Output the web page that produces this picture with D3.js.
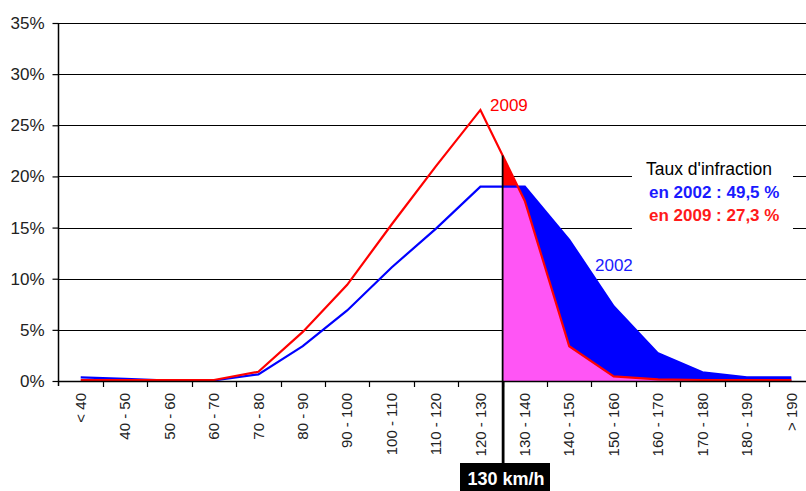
<!DOCTYPE html>
<html><head><meta charset="utf-8">
<script src="https://cdn.jsdelivr.net/npm/d3@7"></script>
<style>
html,body{margin:0;padding:0;background:#fff;overflow:hidden}
text{font-family:"Liberation Sans",Arial,sans-serif}
</style></head>
<body><svg id="c" width="806" height="491"></svg>
<script>
const categories = ["< 40","40 - 50","50 - 60","60 - 70","70 - 80","80 - 90","90 - 100","100 - 110","110 - 120","120 - 130","130 - 140","140 - 150","150 - 160","160 - 170","170 - 180","180 - 190","> 190"];
const values2002 = [0.35,0.2,0.05,0.05,0.65,3.4,6.9,11.1,14.9,19.0,19.0,13.8,7.3,2.7,0.85,0.35,0.35];
const values2009 = [0.1,0.1,0.1,0.1,0.9,4.8,9.4,15.3,21.0,26.5,17.6,3.4,0.45,0.15,0.1,0.1,0.1];
const yTicks = [0,5,10,15,20,25,30,35];
const limitCategory = "130 - 140";
const limitLabel = "130 km/h";
const labelTitle = "Taux d'infraction";
const label2002 = "en 2002 : 49,5 %";
const label2009 = "en 2009 : 27,3 %";

const svg = d3.select("#c");
svg.append("rect").attr("width",806).attr("height",491).attr("fill","#fff");

const x = d3.scaleBand().domain(categories).range([58.5, 813.5]).padding(0);
const y = d3.scaleLinear().domain([0,35]).range([381,23]);
const cx = c => x(c) + x.bandwidth()/2;

// gridlines
svg.append("g").selectAll("line").data(yTicks.slice(1)).join("line")
  .attr("x1",58).attr("x2",806).attr("y1",d=>Math.round(y(d))+0.5).attr("y2",d=>Math.round(y(d))+0.5)
  .attr("stroke","#000").attr("stroke-width",1.2);

// white box behind annotation
svg.append("rect").attr("x",632).attr("y",152).attr("width",161).attr("height",80).attr("fill","#fff");

// fills right of limit
const xLimit = x(limitCategory);
const defs = svg.append("defs");
defs.append("clipPath").attr("id","clipR").append("rect")
  .attr("x",xLimit).attr("y",0).attr("width",806-xLimit).attr("height",y(0));
const idx = d3.range(categories.length);
const area = vals => d3.area().x(i=>cx(categories[i])).y0(y(0)).y1(i=>y(vals[i]))(idx);
const minVals = idx.map(i=>Math.min(values2002[i],values2009[i]));
const fills = svg.append("g").attr("clip-path","url(#clipR)");
fills.append("path").attr("d",area(values2009)).attr("fill","#ff0000");
fills.append("path").attr("d",area(values2002)).attr("fill","#0000ff");
// magenta under the 2009 curve (below both lines)
const redArea = area(values2009);
defs.append("clipPath").attr("id","clipBlue").append("path").attr("d",area(values2002));
fills.append("g").attr("clip-path","url(#clipBlue)").append("path").attr("d",redArea).attr("fill","#ff55f5");

// lines
const line = vals => d3.line().x(i=>cx(categories[i])).y(i=>y(vals[i]))(idx);
svg.append("path").attr("d",line(values2002)).attr("fill","none").attr("stroke","#0000ff").attr("stroke-width",2.2);
svg.append("path").attr("d",line(values2009)).attr("fill","none").attr("stroke","#ff0000").attr("stroke-width",2.2);

// axes
const yAxis = d3.axisLeft(y).tickValues(yTicks).tickFormat(d=>d+"%").tickSize(6).tickPadding(8);
const gy = svg.append("g").attr("transform","translate(58.5,0)").call(yAxis);
gy.select(".domain").attr("d","M0,23V386").attr("stroke","#000").attr("stroke-width",1.5);
gy.selectAll(".tick line").attr("stroke","#000").attr("stroke-width",1.2);
gy.selectAll("text").attr("font-size",17).attr("fill","#222").attr("font-family","Liberation Sans, Arial, sans-serif");

const xAxis = d3.axisBottom(x).tickSize(0).tickPadding(0);
const gx = svg.append("g").attr("transform","translate(0,381)").call(xAxis);
gx.select(".domain").attr("d","M58,0.5H806").attr("stroke","#000").attr("stroke-width",1.5);
gx.selectAll(".tick text").attr("font-size",15).attr("fill","#222")
  .attr("font-family","Liberation Sans, Arial, sans-serif")
  .attr("text-anchor","end").attr("transform","translate(0,12) rotate(-90)").attr("dy","0.35em").attr("x",0).attr("y",0);
// tick marks at band boundaries
svg.append("g").selectAll("line").data(categories.slice(1)).join("line")
  .attr("x1",d=>Math.round(x(d))+0.5).attr("x2",d=>Math.round(x(d))+0.5).attr("y1",381).attr("y2",387)
  .attr("stroke","#000").attr("stroke-width",1.2);

// limit marker
const topY = y(values2009[9] + (values2009[10]-values2009[9])*((xLimit - cx(categories[9]))/x.bandwidth()));
svg.append("line").attr("x1",xLimit).attr("x2",xLimit).attr("y1",topY).attr("y2",381)
  .attr("stroke","#000").attr("stroke-width",1.8);
svg.append("line").attr("x1",xLimit+0.5).attr("x2",xLimit+0.5).attr("y1",381).attr("y2",464)
  .attr("stroke","#000").attr("stroke-width",2.8);
svg.append("rect").attr("x",460).attr("y",463).attr("width",90).attr("height",28).attr("fill","#000");
svg.append("text").attr("x",506).attr("y",485).attr("text-anchor","middle").attr("fill","#fff")
  .attr("font-size",18).attr("font-weight","bold").text(limitLabel);

// series labels
svg.append("text").attr("x",490).attr("y",111).attr("fill","#ff0000").attr("font-size",17).text("2009");
svg.append("text").attr("x",595).attr("y",271).attr("fill","#1a1aff").attr("font-size",17).text("2002");

// annotation
svg.append("text").attr("x",646).attr("y",175).attr("fill","#000").attr("font-size",17.5).text(labelTitle);
svg.append("text").attr("x",649).attr("y",198).attr("fill","#1a1aff").attr("font-size",17).attr("font-weight","bold").text(label2002);
svg.append("text").attr("x",649).attr("y",221).attr("fill","#ff1a1a").attr("font-size",17).attr("font-weight","bold").text(label2009);
</script></body></html>
